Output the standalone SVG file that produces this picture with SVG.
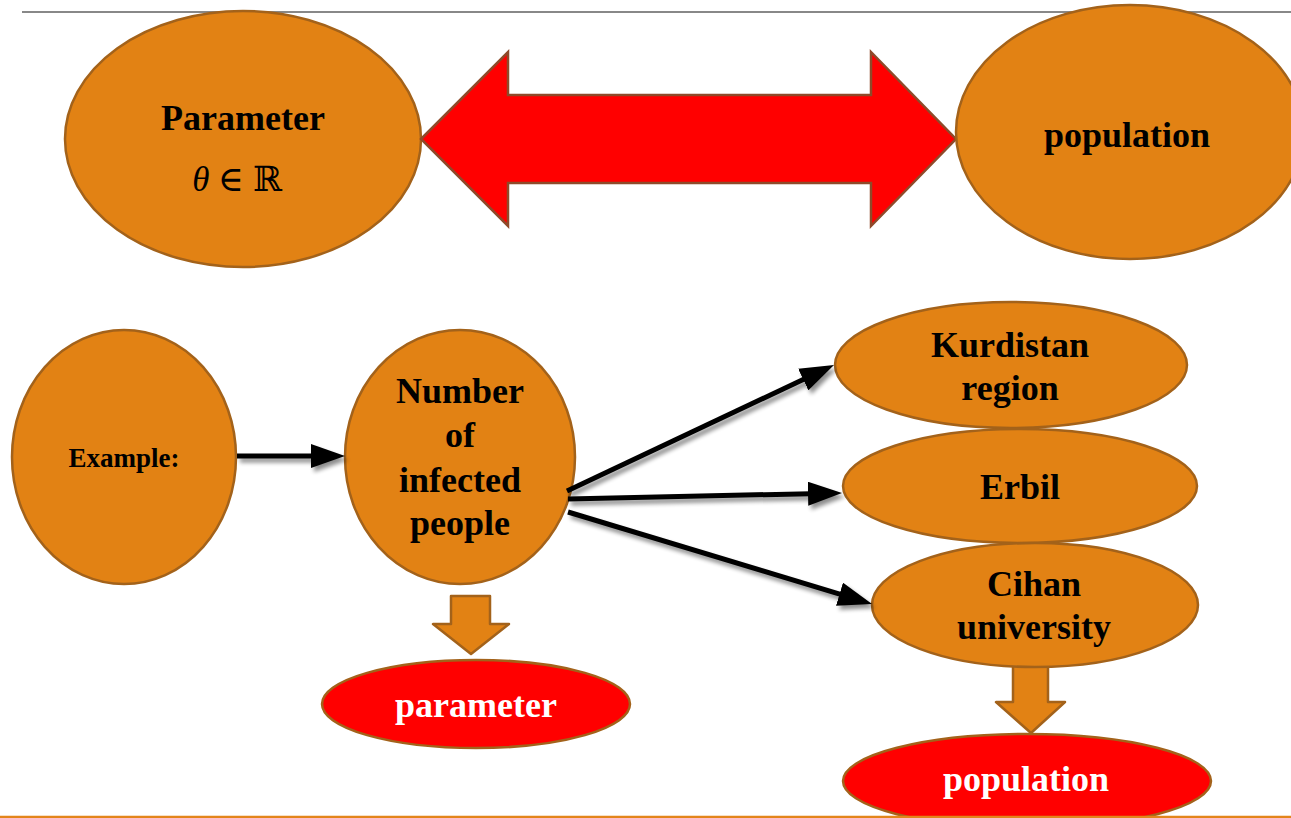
<svg xmlns="http://www.w3.org/2000/svg" width="1291" height="818" viewBox="0 0 1291 818">
  <style>
    .node { fill: #E28214; stroke: #A3621A; stroke-width: 2.5; }
    .red { fill: #FF0000; stroke: #A3621A; stroke-width: 2.5; }
    .lbl { font-family: "Liberation Serif", "Times New Roman", serif; font-weight: bold; font-size: 36px; fill: #000; text-anchor: middle; }
    .wlbl { font-family: "Liberation Serif", "Times New Roman", serif; font-weight: bold; font-size: 36px; fill: #FFFFFF; text-anchor: middle; }
    .conn { stroke: #000; stroke-width: 5; fill: none; marker-end: url(#ah); }
    .block { fill: #E28214; stroke: #A3621A; stroke-width: 2.5; stroke-linejoin: round; }
  </style>
  <defs>
    <marker id="ah" markerUnits="userSpaceOnUse" markerWidth="34" markerHeight="24" refX="14" refY="12" orient="auto">
      <path d="M0,0 L34,12 L0,24 Z" fill="#000"/>
    </marker>
    <filter id="sh" filterUnits="userSpaceOnUse" x="0" y="0" width="1291" height="818">
      <feGaussianBlur in="SourceAlpha" stdDeviation="2"/>
      <feOffset dx="3" dy="4" result="b"/>
      <feComponentTransfer><feFuncA type="linear" slope="0.45"/></feComponentTransfer>
      <feMerge><feMergeNode/><feMergeNode in="SourceGraphic"/></feMerge>
    </filter>
  </defs>

  <line x1="22" y1="12" x2="1291" y2="12" stroke="#888888" stroke-width="2"/>

  <g id="parameter-top">
    <ellipse class="node" cx="243" cy="139" rx="178" ry="128"/>
    <text class="lbl" x="243" y="130">Parameter</text>
    <text x="237" y="191" font-family="Liberation Serif, DejaVu Serif, serif" font-size="35" text-anchor="middle" fill="#000"><tspan font-style="italic">θ</tspan> ∈ ℝ</text>
  </g>

  <g id="double-arrow">
    <path d="M421,139 L508,52 V95 H871 V52 L956,139 L871,226 V183 H508 V226 Z" fill="#FF0000" stroke="#8E4A2A" stroke-width="2.5" stroke-linejoin="miter"/>
  </g>

  <g id="population-top">
    <ellipse class="node" cx="1130" cy="132" rx="174" ry="127"/>
    <text class="lbl" x="1127" y="147">population</text>
  </g>

  <g id="example">
    <ellipse class="node" cx="124" cy="457" rx="112" ry="127"/>
    <text class="lbl" x="124" y="467" style="font-size:27px">Example:</text>
  </g>

  <g id="number">
    <ellipse class="node" cx="460" cy="457" rx="115" ry="127"/>
    <text class="lbl" x="460" y="403">Number</text>
    <text class="lbl" x="460" y="447">of</text>
    <text class="lbl" x="460" y="492">infected</text>
    <text class="lbl" x="460" y="535">people</text>
  </g>

  <g id="kurdistan">
    <ellipse class="node" cx="1011" cy="365" rx="176" ry="63"/>
    <text class="lbl" x="1010" y="357">Kurdistan</text>
    <text class="lbl" x="1010" y="400">region</text>
  </g>

  <g id="erbil">
    <ellipse class="node" cx="1020" cy="486" rx="177" ry="57"/>
    <text class="lbl" x="1020" y="499">Erbil</text>
  </g>

  <g id="down-arrow-cihan">
    <path class="block" d="M1013,660 H1048 V702 H1065 L1031,733 L996,702 H1013 Z"/>
  </g>

  <g id="cihan">
    <ellipse class="node" cx="1035" cy="605" rx="163" ry="62"/>
    <text class="lbl" x="1034" y="596">Cihan</text>
    <text class="lbl" x="1034" y="639">university</text>
  </g>

  <g id="down-arrow-number">
    <path class="block" d="M451,596 H490 V624 H509 L471,654 L433,624 H451 Z"/>
  </g>

  <g id="parameter-bottom">
    <ellipse class="red" cx="476" cy="704" rx="154" ry="44"/>
    <text class="wlbl" x="476" y="717">parameter</text>
  </g>

  <g id="population-bottom">
    <ellipse class="red" cx="1027" cy="781" rx="184" ry="47"/>
    <text class="wlbl" x="1026" y="791">population</text>
  </g>

  <g id="connectors" filter="url(#sh)">
    <line class="conn" x1="237" y1="456" x2="325" y2="456"/>
    <line class="conn" x1="567" y1="491" x2="815.9" y2="373.5"/>
    <line class="conn" x1="568" y1="499" x2="822" y2="493.4"/>
    <line class="conn" x1="568" y1="512" x2="852.9" y2="598.2"/>
  </g>

  <line x1="0" y1="817" x2="1291" y2="817" stroke="#E3851B" stroke-width="2.5"/>
</svg>
